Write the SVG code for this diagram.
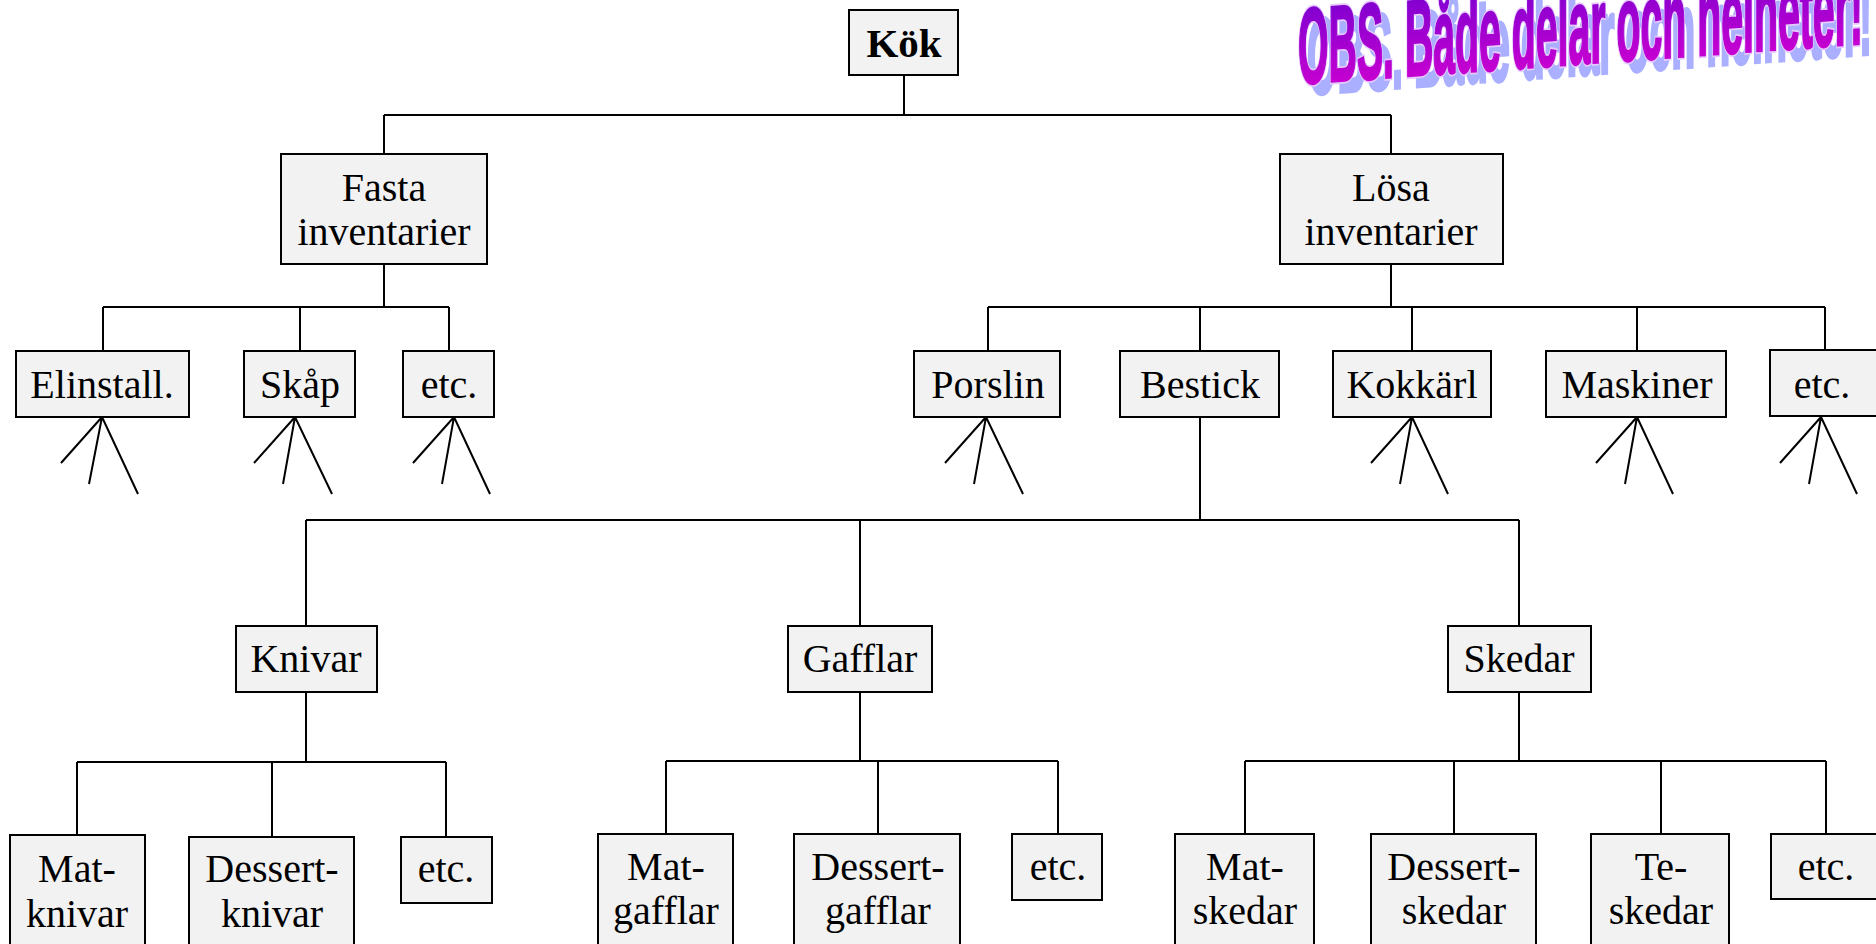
<svg xmlns="http://www.w3.org/2000/svg" width="1876" height="944" viewBox="0 0 1876 944">
<style>
.box{fill:#f2f2f2;stroke:#000;stroke-width:2}
.t{font-family:"Liberation Serif","DejaVu Serif",serif;font-size:40px;fill:#000;text-anchor:middle}
.b{font-weight:bold;font-size:41px}
.ln{stroke:#000;stroke-width:2;fill:none}
.wa{font-family:"Liberation Sans Narrow","Liberation Sans",Arial,sans-serif;font-weight:bold;font-size:108px}
</style>
<defs>
<linearGradient id="pg" x1="0" y1="0" x2="0" y2="1">
<stop offset="0" stop-color="#7000d0"/>
<stop offset="1" stop-color="#d800d0"/>
</linearGradient>
</defs>
<rect width="1876" height="944" fill="#fff"/>

<g id="wordart" transform="translate(1298,84) skewY(-4.1)">
<text class="wa" x="9" y="11" textLength="565" lengthAdjust="spacingAndGlyphs" fill="#aab0ff" stroke="#aab0ff" stroke-width="4">OBS. Både delar och helheter!</text>
<text class="wa" x="0" y="0" textLength="565" lengthAdjust="spacingAndGlyphs" fill="#e4c8ff" stroke="#e4c8ff" stroke-width="6">OBS. Både delar och helheter!</text>
<text class="wa" x="0" y="0" textLength="565" lengthAdjust="spacingAndGlyphs" fill="url(#pg)" stroke="url(#pg)" stroke-width="2.5">OBS. Både delar och helheter!</text>
</g>

<g id="connectors" class="ln">
<path d="M904 75V115M384 115H1391M384 115V154M1391 115V154"/>
<path d="M384 264V307M103 307H449M103 307V351M300 307V351M449 307V351"/>
<path d="M1391 264V307M988 307H1825M988 307V351M1200 307V351M1412 307V351M1637 307V351M1825 307V351"/>
<path d="M102 417l-41 46M102 417l-13 67M102 417l36 77"/>
<path d="M295 417l-41 46M295 417l-12 67M295 417l37 77"/>
<path d="M454 417l-41 46M454 417l-12 67M454 417l36 77"/>
<path d="M986 417l-41 46M986 417l-12 67M986 417l37 77"/>
<path d="M1412 417l-41 46M1412 417l-12 67M1412 417l36 77"/>
<path d="M1637 417l-41 46M1637 417l-12 67M1637 417l36 77"/>
<path d="M1821 417l-41 46M1821 417l-12 67M1821 417l36 77"/>
<path d="M1200 416V520M306 520H1519M306 520V626M860 520V626M1519 520V626"/>
<path d="M306 692V762M77 762H446M77 762V835M272 762V837M446 762V837"/>
<path d="M860 692V761M666 761H1058M666 761V834M878 761V834M1058 761V834"/>
<path d="M1519 692V761M1245 761H1826M1245 761V834M1454 761V834M1661 761V834M1826 761V834"/>
</g>

<g id="kok"><rect class="box" x="849" y="10" width="109" height="65"/><text class="t b" x="904" y="57">Kök</text></g>
<g id="fasta"><rect class="box" x="281" y="154" width="206" height="110"/><text class="t" x="384" y="201">Fasta</text><text class="t" x="384" y="245">inventarier</text></g>
<g id="losa"><rect class="box" x="1280" y="154" width="223" height="110"/><text class="t" x="1391" y="201">Lösa</text><text class="t" x="1391" y="245">inventarier</text></g>

<g id="elinstall"><rect class="box" x="16" y="351" width="173" height="66"/><text class="t" x="102" y="398">Elinstall.</text></g>
<g id="skap"><rect class="box" x="244" y="351" width="111" height="66"/><text class="t" x="300" y="398">Skåp</text></g>
<g id="etc1"><rect class="box" x="403" y="351" width="91" height="66"/><text class="t" x="449" y="398">etc.</text></g>

<g id="porslin"><rect class="box" x="914" y="351" width="146" height="66"/><text class="t" x="988" y="398">Porslin</text></g>
<g id="bestick"><rect class="box" x="1120" y="351" width="159" height="66"/><text class="t" x="1200" y="398">Bestick</text></g>
<g id="kokkarl"><rect class="box" x="1333" y="351" width="158" height="66"/><text class="t" x="1412" y="398">Kokkärl</text></g>
<g id="maskiner"><rect class="box" x="1546" y="351" width="180" height="66"/><text class="t" x="1637" y="398">Maskiner</text></g>
<g id="etc2"><rect class="box" x="1770" y="350" width="112" height="66"/><text class="t" x="1822" y="398">etc.</text></g>

<g id="knivar"><rect class="box" x="236" y="626" width="141" height="66"/><text class="t" x="306" y="672">Knivar</text></g>
<g id="gafflar"><rect class="box" x="788" y="626" width="144" height="66"/><text class="t" x="860" y="672">Gafflar</text></g>
<g id="skedar"><rect class="box" x="1448" y="626" width="143" height="66"/><text class="t" x="1519" y="672">Skedar</text></g>

<g id="matknivar"><rect class="box" x="10" y="835" width="135" height="120"/><text class="t" x="77" y="882">Mat-</text><text class="t" x="77" y="927">knivar</text></g>
<g id="dessertknivar"><rect class="box" x="189" y="837" width="165" height="120"/><text class="t" x="272" y="882">Dessert-</text><text class="t" x="272" y="927">knivar</text></g>
<g id="etc3"><rect class="box" x="401" y="837" width="91" height="66"/><text class="t" x="446" y="882">etc.</text></g>

<g id="matgafflar"><rect class="box" x="598" y="834" width="135" height="120"/><text class="t" x="666" y="880">Mat-</text><text class="t" x="666" y="924">gafflar</text></g>
<g id="dessertgafflar"><rect class="box" x="794" y="834" width="166" height="120"/><text class="t" x="878" y="880">Dessert-</text><text class="t" x="878" y="924">gafflar</text></g>
<g id="etc4"><rect class="box" x="1012" y="834" width="90" height="66"/><text class="t" x="1058" y="880">etc.</text></g>

<g id="matskedar"><rect class="box" x="1175" y="834" width="139" height="120"/><text class="t" x="1245" y="880">Mat-</text><text class="t" x="1245" y="924">skedar</text></g>
<g id="dessertskedar"><rect class="box" x="1371" y="834" width="165" height="120"/><text class="t" x="1454" y="880">Dessert-</text><text class="t" x="1454" y="924">skedar</text></g>
<g id="teskedar"><rect class="box" x="1591" y="834" width="138" height="120"/><text class="t" x="1661" y="880">Te-</text><text class="t" x="1661" y="924">skedar</text></g>
<g id="etc5"><rect class="box" x="1771" y="834" width="112" height="65"/><text class="t" x="1826" y="880">etc.</text></g>
</svg>
